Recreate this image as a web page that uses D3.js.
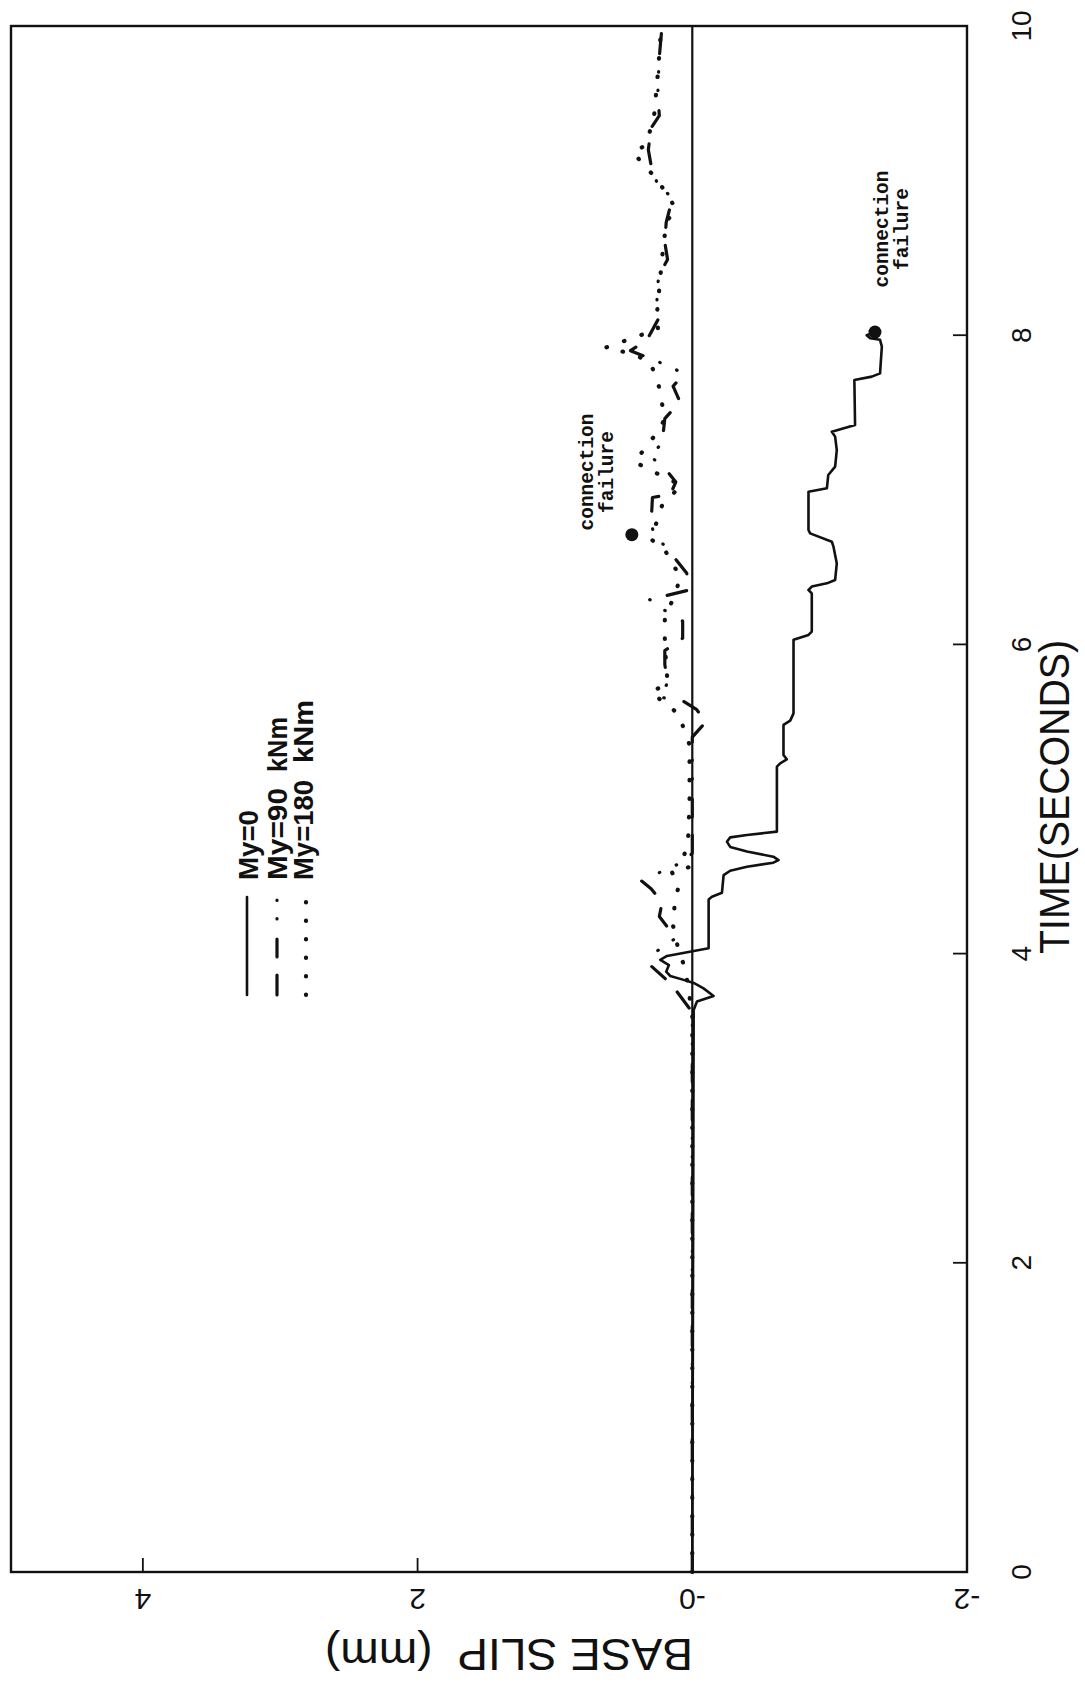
<!DOCTYPE html>
<html>
<head>
<meta charset="utf-8">
<script src="https://cdn.jsdelivr.net/npm/d3@7"></script>
<style>
  html, body { margin: 0; padding: 0; background: #fff; }
  svg { display: block; }
  text { white-space: pre; }
</style>
</head>
<body>
<div id="chart"></div>
<script>
// ---------- DATA ----------
// Time axis (seconds) and base slip axis (mm)
const timeTicks = [0, 2, 4, 6, 8, 10];
const timeTickLabels = ["0", "2", "4", "6", "8", "10"];
const slipTicks = [4, 2, 0, -2];
const slipTickLabels = ["4", "2", "-0", "-2"];

const seriesNames = ["My=0", "My=90", "My=180"];
const seriesUnits = ["", "kNm", "kNm"];

// My=0 : time (s) and base slip (mm)
const t0 = [0, 3.635, 3.69, 3.726, 3.775, 3.81, 3.83, 3.855, 3.883, 3.926, 3.96, 3.985, 4.034, 4.35, 4.368, 4.394, 4.508, 4.536, 4.562, 4.588, 4.605, 4.627, 4.66, 4.69, 4.724, 4.752, 4.767, 4.789, 5.209, 5.231, 5.257, 5.285, 5.479, 5.507, 5.554, 6.03, 6.061, 6.083, 6.33, 6.352, 6.374, 6.395, 6.417, 6.524, 6.632, 6.664, 6.718, 6.74, 6.988, 7.01, 7.096, 7.15, 7.257, 7.344, 7.376, 7.419, 7.71, 7.732, 7.753, 7.926, 7.97, 7.98, 8.0, 8.02];
const s0 = [0, -0.01, -0.034, -0.155, -0.082, -0.01, 0.063, 0.16, 0.19, 0.17, 0.233, 0.184, -0.119, -0.119, -0.143, -0.216, -0.228, -0.276, -0.398, -0.59, -0.628, -0.59, -0.398, -0.276, -0.252, -0.276, -0.398, -0.616, -0.616, -0.64, -0.688, -0.664, -0.664, -0.713, -0.737, -0.737, -0.846, -0.87, -0.87, -0.846, -0.87, -0.98, -1.04, -1.052, -1.028, -1.016, -0.858, -0.846, -0.846, -0.98, -0.99, -1.04, -1.052, -1.04, -1.016, -1.185, -1.18, -1.307, -1.367, -1.38, -1.367, -1.295, -1.27, -1.33];

// My=90 kNm
const t90 = [0, 3.62, 3.80, 3.92, 3.99, 4.10, 4.24, 4.33, 4.42, 4.47, 4.52, 4.60, 4.65, 5.40, 5.50, 5.58, 5.63, 5.66, 5.75, 5.87, 5.96, 6.04, 6.15, 6.22, 6.29, 6.35, 6.46, 6.55, 6.72, 6.78, 6.95, 6.97, 7.05, 7.14, 7.22, 7.30, 7.46, 7.57, 7.67, 7.75, 7.80, 7.90, 7.97, 8.10, 8.29, 8.39, 8.49, 8.60, 8.73, 8.90, 8.94, 9.10, 9.20, 9.34, 9.42, 9.56, 9.62, 9.80, 10.0];
const s90 = [0, 0, 0.15, 0.30, 0.30, 0.12, 0.24, 0.22, 0.30, 0.37, 0.25, 0.05, 0, 0, -0.10, -0.03, 0.06, 0.24, 0.18, 0.20, 0.20, 0.07, 0.07, 0.20, 0.31, 0.03, 0.04, 0.12, 0.28, 0.30, 0.29, 0.16, 0.12, 0.20, 0.31, 0.22, 0.20, 0.09, 0.14, 0.06, 0.17, 0.45, 0.33, 0.25, 0.26, 0.24, 0.18, 0.20, 0.19, 0.14, 0.24, 0.30, 0.32, 0.30, 0.24, 0.25, 0.25, 0.24, 0.22];

// My=180 kNm
const t180 = [0, 3.60, 3.90, 4.02, 4.18, 4.30, 4.44, 4.53, 4.56, 4.59, 4.75, 4.98, 5.22, 5.35, 5.55, 5.69, 5.75, 6.00, 6.18, 6.33, 6.44, 6.61, 6.68, 6.90, 7.03, 7.08, 7.18, 7.39, 7.46, 7.70, 7.83, 7.88, 7.92, 8.04, 8.16, 8.50, 8.73, 8.82, 9.00, 9.18, 9.23, 9.40, 9.75, 9.86, 9.99];
const s180 = [0, 0, 0.05, 0.10, 0.14, 0.13, 0.10, 0.15, 0.02, 0.07, 0.03, 0.02, 0.02, 0.02, 0.10, 0.30, 0.18, 0.20, 0.20, 0.12, 0.09, 0.20, 0.30, 0.22, 0.08, 0.20, 0.42, 0.24, 0.20, 0.25, 0.31, 0.44, 0.63, 0.25, 0.255, 0.22, 0.19, 0.12, 0.25, 0.43, 0.34, 0.28, 0.245, 0.238, 0.225];

// Connection failure points [time, slip]
const failTimes = [6.71, 8.02];
const failSlips = [0.44, -1.33];
const failLabel = ["connection", "failure"];

// ---------- DRAW ----------
const W = 1085, H = 1699;
const svg = d3.select("#chart").append("svg").attr("width", W).attr("height", H);

// slip axis is horizontal (increasing leftwards), time axis vertical (increasing upwards)
const x = d3.scaleLinear().domain([-2, 4.96]).range([967, 11]);
const y = d3.scaleLinear().domain([0, 10]).range([1572, 26]);

const ink = "#111";
const g = svg.append("g");

// frame
g.append("rect")
  .attr("x", x(4.96)).attr("y", y(10))
  .attr("width", x(-2) - x(4.96)).attr("height", y(0) - y(10))
  .attr("fill", "none").attr("stroke", ink).attr("stroke-width", 2.4);

// zero line
g.append("line")
  .attr("x1", x(0)).attr("x2", x(0)).attr("y1", y(0)).attr("y2", y(10))
  .attr("stroke", ink).attr("stroke-width", 2.2);

// time ticks on right edge (inward)
g.selectAll(".tt").data(timeTicks.filter(d => d > 0 && d < 10)).enter().append("line")
  .attr("x1", x(-2)).attr("x2", x(-2) - 14)
  .attr("y1", d => y(d)).attr("y2", d => y(d))
  .attr("stroke", ink).attr("stroke-width", 1.8);

// slip ticks on bottom edge (inward)
g.selectAll(".st").data(slipTicks.filter(d => d > 0)).enter().append("line")
  .attr("x1", d => x(d)).attr("x2", d => x(d))
  .attr("y1", y(0)).attr("y2", y(0) - 14)
  .attr("stroke", ink).attr("stroke-width", 1.8);

// time tick labels (rotated -90)
g.selectAll(".tl").data(timeTicks).enter().append("text")
  .attr("transform", d => `translate(1031,${y(d)}) rotate(-90)`)
  .attr("text-anchor", "middle")
  .attr("font-family", "Liberation Sans, Arial, sans-serif")
  .attr("font-size", 28)
  .attr("fill", ink)
  .text((d, i) => timeTickLabels[i]);

// time axis title
g.append("text")
  .attr("transform", `translate(1069,${y(0) - 775}) rotate(-90)`)
  .attr("text-anchor", "middle")
  .attr("font-family", "Liberation Sans, Arial, sans-serif")
  .attr("font-size", 42)
  .attr("textLength", 314).attr("lengthAdjust", "spacingAndGlyphs")
  .attr("fill", ink)
  .text("TIME(SECONDS)");

// slip tick labels (upside down)
g.selectAll(".sl").data(slipTicks).enter().append("text")
  .attr("transform", d => `translate(${x(d)},1589) rotate(180)`)
  .attr("text-anchor", "middle")
  .attr("font-family", "Liberation Sans, Arial, sans-serif")
  .attr("font-size", 30)
  .attr("fill", ink)
  .text((d, i) => slipTickLabels[i]);

// slip axis title (upside down)
g.append("text")
  .attr("transform", `translate(509,1639) rotate(180)`)
  .attr("text-anchor", "middle")
  .attr("font-family", "Liberation Sans, Arial, sans-serif")
  .attr("font-size", 44)
  .attr("textLength", 368).attr("lengthAdjust", "spacingAndGlyphs")
  .attr("fill", ink)
  .text("BASE SLIP  (mm)");

// series
const dash90 = "20,18,18,20,0.5,18,0.5,18";
const dash180 = "0.5,18";
const line = d3.line().x(d => x(d[1])).y(d => y(d[0])).curve(d3.curveLinear);
const zip = (a, b) => a.map((v, i) => [v, b[i]]);
const series = [
  { data: zip(t0, s0), dash: null, w: 2.6 },
  { data: zip(t90, s90), dash: dash90, w: 3.2 },
  { data: zip(t180, s180), dash: dash180, w: 4.2 }
];
series.forEach(s => {
  const p = g.append("path").datum(s.data)
    .attr("d", line).attr("fill", "none").attr("stroke", ink)
    .attr("stroke-width", s.w).attr("stroke-linejoin", "round").attr("stroke-linecap", "round");
  if (s.dash) p.attr("stroke-dasharray", s.dash);
});

// connection failure markers
g.selectAll(".fm").data(failTimes).enter().append("circle")
  .attr("cx", (d, i) => x(failSlips[i])).attr("cy", d => y(d))
  .attr("r", 6.5).attr("fill", ink);

// labels near markers
const labelPos = [[593, 472], [888, 229]];
labelPos.forEach(p => {
  failLabel.forEach((txt, j) => {
    g.append("text")
      .attr("transform", `translate(${p[0] + j * 19.5},${p[1]}) rotate(-90)`)
      .attr("text-anchor", "middle")
      .attr("font-family", "Liberation Mono, DejaVu Sans Mono, monospace")
      .attr("font-weight", "bold")
      .attr("font-size", 19.5)
      .attr("fill", ink)
      .text(txt);
  });
});

// legend
const legX = [247, 277, 306];
const legBase = [258, 287, 313];
const legDash = [null, dash90, dash180];
const legW = [2.6, 3.2, 4.2];
const legNameLen = [70, 92, 100];
const legUnitStart = [0, 772, 763];
const legUnitLen = [0, 55, 63];
seriesNames.forEach((nm, i) => {
  const l = g.append("line")
    .attr("x1", legX[i]).attr("x2", legX[i]).attr("y1", 995).attr("y2", 897)
    .attr("stroke", ink).attr("stroke-width", legW[i]).attr("stroke-linecap", "round");
  if (legDash[i]) l.attr("stroke-dasharray", legDash[i]);
  g.append("text")
    .attr("transform", `translate(${legBase[i]},880) rotate(-90)`)
    .attr("font-family", "Liberation Sans, Arial, sans-serif")
    .attr("font-weight", "bold").attr("font-size", 28)
    .attr("textLength", legNameLen[i]).attr("lengthAdjust", "spacingAndGlyphs")
    .attr("fill", ink).text(nm);
  if (seriesUnits[i]) {
    g.append("text")
      .attr("transform", `translate(${legBase[i]},${legUnitStart[i]}) rotate(-90)`)
      .attr("font-family", "Liberation Sans, Arial, sans-serif")
      .attr("font-weight", "bold").attr("font-size", 28)
      .attr("textLength", legUnitLen[i]).attr("lengthAdjust", "spacingAndGlyphs")
      .attr("fill", ink).text(seriesUnits[i]);
  }
});
</script>
</body>
</html>
